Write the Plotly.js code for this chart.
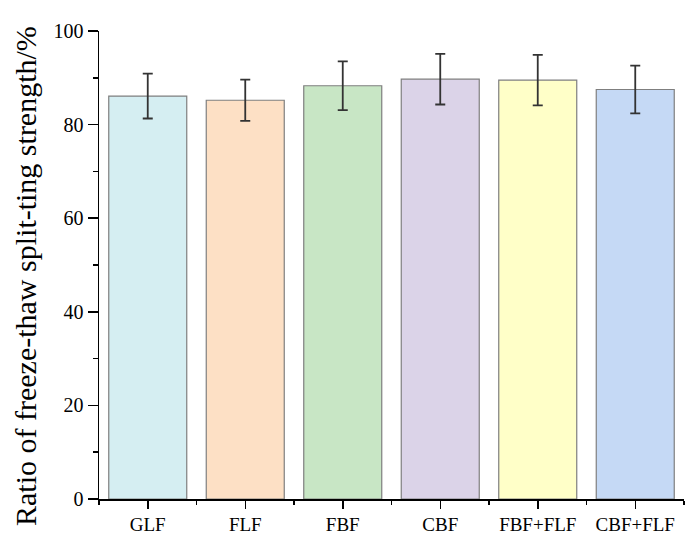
<!DOCTYPE html>
<html><head><meta charset="utf-8">
<script src="https://cdn.plot.ly/plotly-3.0.1.min.js"></script>
<style>html,body{margin:0;padding:0;background:#fff}</style>
</head><body><div id="chart" style="width:687px;height:545px"></div>
<script>
const categories = ["GLF","FLF","FBF","CBF","FBF+FLF","CBF+FLF"];
const values = [86.1, 85.2, 88.3, 89.7, 89.5, 87.5];
const errors = [4.8, 4.4, 5.2, 5.4, 5.4, 5.1];
const colors = ["#d5eef2","#fde0c5","#c8e6c5","#dbd3e8","#ffffc8","#c5d9f5"];
const yTitle = "Ratio of freeze-thaw split-ting strength/%";
const positions = categories.map((c,i)=>i);

const trace = {
  type: "bar",
  x: positions,
  y: values,
  width: 0.8,
  marker: {color: colors, line: {color: "#7f7f7f", width: 1.2}},
  error_y: {type: "data", array: errors, visible: true, color: "#333333", thickness: 1.8, width: 5},
  hoverinfo: "skip"
};
const layout = {
  width: 687, height: 545,
  margin: {l: 99, r: 3, t: 31, b: 46},
  paper_bgcolor: "#fff", plot_bgcolor: "#fff",
  showlegend: false,
  font: {family: "Liberation Serif, Times New Roman, serif", color: "#000", size: 19},
  xaxis: {
    range: [-0.5, 5.5],
    tickvals: positions, ticktext: categories,
    ticks: "outside", ticklen: 8, tickwidth: 1.5, tickcolor: "#000",
    showline: true, linecolor: "#000", linewidth: 1.5,
    showgrid: false, zeroline: false,
    tickfont: {size: 19},
    minor: {tick0: 0.5, dtick: 1, ticks: "outside", ticklen: 4, tickwidth: 1.5, tickcolor: "#000", showgrid: false}
  },
  yaxis: {
    range: [0, 100],
    tickvals: [0,20,40,60,80,100],
    ticks: "outside", ticklen: 10, tickwidth: 1.5, tickcolor: "#000",
    showline: true, linecolor: "#000", linewidth: 1.5,
    showgrid: false, zeroline: false,
    tickfont: {size: 20},
    minor: {tick0: 10, dtick: 20, ticks: "outside", ticklen: 5, tickwidth: 1.5, tickcolor: "#000", showgrid: false}
  },
  annotations: [{
    text: yTitle, textangle: -90, showarrow: false,
    xref: "paper", yref: "paper",
    x: (25 - 99) / 585, y: (499 - 276) / 468,
    xanchor: "center", yanchor: "middle",
    font: {size: 30, family: "Liberation Serif, Times New Roman, serif", color: "#000"}
  }]
};
Plotly.newPlot("chart", [trace], layout, {displayModeBar: false, staticPlot: true});
</script></body></html>
